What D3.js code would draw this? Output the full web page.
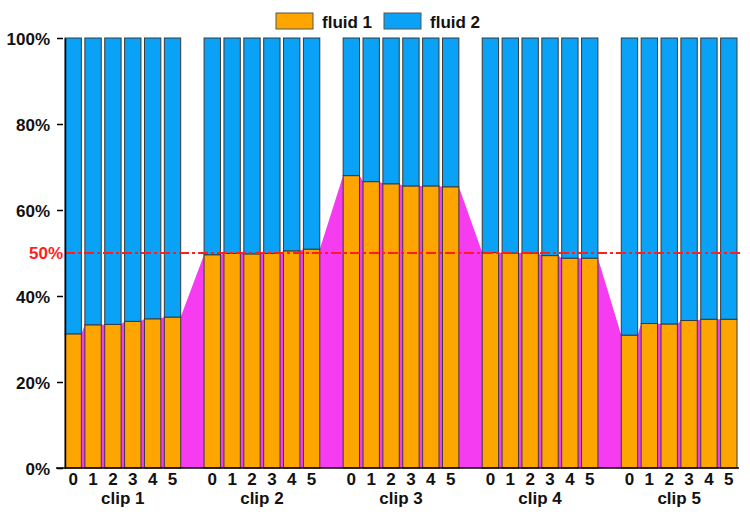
<!DOCTYPE html>
<html>
<head>
<meta charset="utf-8">
<script src="https://cdn.jsdelivr.net/npm/d3@7/dist/d3.min.js"></script>
<style>
  html, body { margin: 0; padding: 0; background: #ffffff; }
  svg { display: block; }
  text { font-family: "Liberation Sans", Arial, Helvetica, sans-serif; font-weight: bold; }
</style>
</head>
<body>
<svg id="chart" width="750" height="519"></svg>
<script>
// ---------------- data ----------------
const clips = ["clip 1", "clip 2", "clip 3", "clip 4", "clip 5"];
const frames = ["0", "1", "2", "3", "4", "5"];
const seriesNames = ["fluid 1", "fluid 2"];
const fluid1 = [
  [31.2, 33.3, 33.4, 34.1, 34.7, 35.1],
  [49.6, 49.9, 49.8, 49.9, 50.5, 50.9],
  [68.0, 66.6, 66.1, 65.6, 65.6, 65.4],
  [50.1, 50.0, 50.0, 49.4, 48.8, 48.8],
  [30.9, 33.6, 33.5, 34.3, 34.6, 34.6]
];
const fluid2 = [
  [68.8, 66.7, 66.6, 65.9, 65.3, 64.9],
  [50.4, 50.1, 50.2, 50.1, 49.5, 49.1],
  [32.0, 33.4, 33.9, 34.4, 34.4, 34.6],
  [49.9, 50.0, 50.0, 50.6, 51.2, 51.2],
  [69.1, 66.4, 66.5, 65.7, 65.4, 65.4]
];
const yTicks = [0, 20, 40, 60, 80, 100];
const refLine = 50;

// ---------------- styles ----------------
const colF1 = "#FFA500", colF2 = "#0AA2F7", colArea = "#F53CF0", colRef = "#FF1E1E";
const fontSize = 17;

const svg = d3.select("#chart");

// slot keys: 6 frames per clip, one empty slot between clips
const slots = [];
clips.forEach((c, ci) => {
  frames.forEach(f => slots.push(ci + "-" + f));
  if (ci < clips.length - 1) slots.push("gap" + ci);
});

const x = d3.scaleBand().domain(slots).range([65, 737]).paddingInner(0.176).paddingOuter(0);
const y = d3.scaleLinear().domain([0, 100]).range([468, 38]);
const bw = x.bandwidth();

const records = [];
clips.forEach((c, ci) => frames.forEach((f, fi) => {
  records.push({ key: ci + "-" + f, clip: ci, frame: f, v1: fluid1[ci][fi], v2: fluid2[ci][fi] });
}));

// magenta area following fluid 1 level
const areaPts = [];
records.forEach(r => {
  areaPts.push({ x: x(r.key), v: r.v1 });
  areaPts.push({ x: x(r.key) + bw, v: r.v1 });
});
svg.append("path")
  .datum(areaPts)
  .attr("fill", colArea)
  .attr("d", d3.area().x(d => d.x).y0(y(0)).y1(d => y(d.v)));

// stacked bars
const bars = svg.append("g");
bars.selectAll("rect.f1").data(records).join("rect")
  .attr("class", "f1")
  .attr("x", d => x(d.key)).attr("width", bw)
  .attr("y", d => y(d.v1)).attr("height", d => y(0) - y(d.v1))
  .attr("fill", colF1).attr("stroke", "#3a3a3a").attr("stroke-width", 1);
bars.selectAll("rect.f2").data(records).join("rect")
  .attr("class", "f2")
  .attr("x", d => x(d.key)).attr("width", bw)
  .attr("y", d => y(d.v1 + d.v2)).attr("height", d => y(d.v1) - y(d.v1 + d.v2))
  .attr("fill", colF2).attr("stroke", "#3a3a3a").attr("stroke-width", 1);

// 50% reference line
svg.append("line")
  .attr("x1", 65).attr("x2", 740)
  .attr("y1", y(refLine)).attr("y2", y(refLine))
  .attr("stroke", colRef).attr("stroke-width", 2)
  .attr("stroke-dasharray", "10,3,3,3");

// y axis
const yAxis = svg.append("g").attr("transform", "translate(65,0)")
  .call(d3.axisLeft(y).tickValues(yTicks).tickFormat(d => d + "%").tickSize(8).tickSizeOuter(0).tickPadding(7));
yAxis.select(".domain").attr("stroke", "#000").attr("stroke-width", 1.5);
yAxis.selectAll(".tick line").attr("stroke", "#000").attr("stroke-width", 1.5).attr("x1", -2).attr("x2", -8);
yAxis.selectAll(".tick text").attr("font-size", fontSize).attr("fill", "#111").attr("dy", "0.38em")
  .attr("font-family", '"Liberation Sans", Arial, sans-serif').attr("font-weight", "bold");

// red 50% label
svg.append("text")
  .attr("x", 63).attr("y", y(refLine)).attr("dy", "0.38em")
  .attr("text-anchor", "end").attr("font-size", fontSize).attr("fill", colRef)
  .text(refLine + "%");

// x axis (frames)
const xAxis = svg.append("g").attr("transform", "translate(0," + y(0) + ")")
  .call(d3.axisBottom(x).tickValues(records.map(r => r.key)).tickFormat(k => k.split("-")[1]).tickSize(0).tickPadding(5));
xAxis.select(".domain").remove();
xAxis.selectAll(".tick text").attr("font-size", fontSize).attr("fill", "#111")
  .attr("font-family", '"Liberation Sans", Arial, sans-serif').attr("font-weight", "bold");
svg.append("line")
  .attr("x1", 56).attr("x2", 739).attr("y1", y(0)).attr("y2", y(0))
  .attr("stroke", "#000").attr("stroke-width", 1.5);

// clip labels
svg.selectAll("text.clip").data(clips).join("text")
  .attr("class", "clip")
  .attr("x", (c, ci) => (x(ci + "-0") + x(ci + "-5") + bw) / 2)
  .attr("y", 503.5)
  .attr("text-anchor", "middle").attr("font-size", fontSize).attr("fill", "#111")
  .text(d => d);

// legend
const legend = svg.append("g");
const legItems = [
  { name: seriesNames[0], color: colF1, bx: 276, tx: 322 },
  { name: seriesNames[1], color: colF2, bx: 384, tx: 430 }
];
legItems.forEach(it => {
  legend.append("rect").attr("x", it.bx).attr("y", 13).attr("width", 37).attr("height", 16)
    .attr("fill", it.color).attr("stroke", "#555").attr("stroke-width", 1);
  legend.append("text").attr("x", it.tx).attr("y", 27.5).attr("font-size", fontSize).attr("fill", "#111")
    .text(it.name);
});
</script>
</body>
</html>
